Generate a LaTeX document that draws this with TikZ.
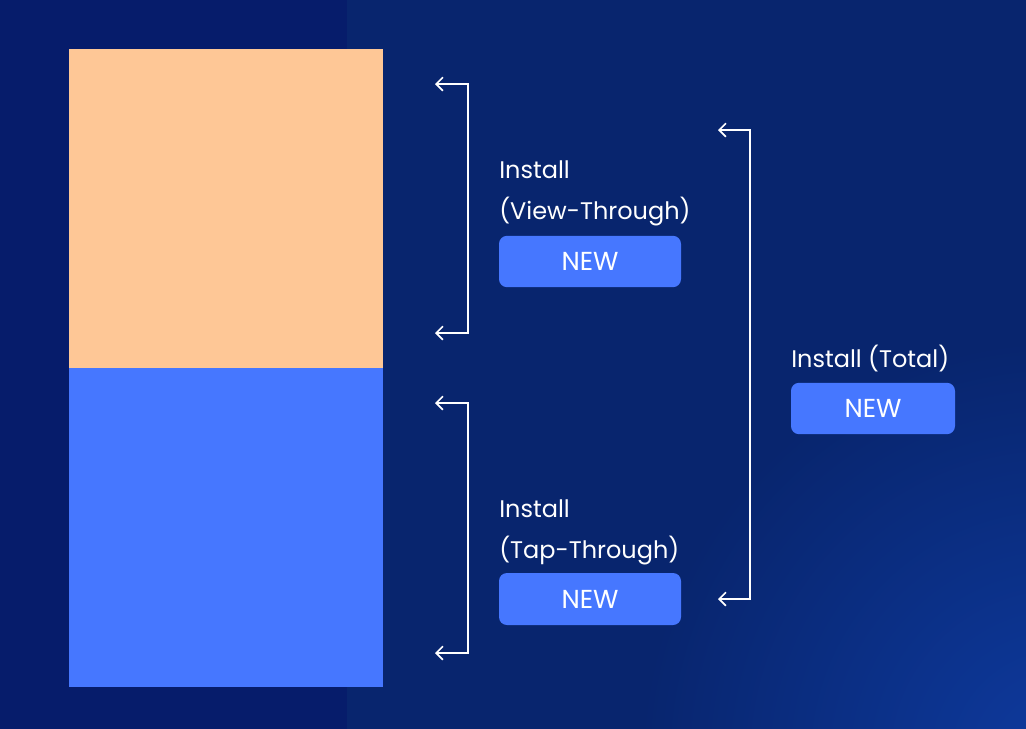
\documentclass[tikz,border=0pt]{standalone}
\usepackage{fontspec}
\setmainfont{Poppins}
\usepackage{tikz}
\usetikzlibrary{arrows.meta}

\definecolor{navyleft}{HTML}{061C6B}
\definecolor{navyright}{HTML}{08256E}
\definecolor{navyglow}{HTML}{0E3A9E}
\definecolor{peach}{HTML}{FEC796}
\definecolor{brandblue}{HTML}{4677FF}

\tikzset{
    newbtn/.style={fill=brandblue, rounded corners=6pt, text=white,
        font=\fontsize{19.5}{22}\selectfont, inner sep=0pt},
    label/.style={text=white, anchor=base west, inner sep=0pt,
        font=\fontsize{18}{22}\selectfont},
    bracket/.style={white, line width=1.3pt, {Straight Barb[length=5pt,width=10pt]}-{Straight Barb[length=5pt,width=10pt]}}
}

\begin{document}
\begin{tikzpicture}[x=0.75pt,y=-0.75pt]
        % Background
        \fill[navyleft] (0,0) rectangle (1026,729);
        \begin{scope}
            \clip (347,0) rectangle (1026,729);
            \fill[navyright] (347,0) rectangle (1026,729);
            \shade[inner color=navyglow, outer color=navyright] (1060,760) circle (420);
        \end{scope}
        \useasboundingbox (0,0) rectangle (1026,729);

        % Stacked bar
        \fill[peach] (69,49) rectangle (383,368);
        \fill[brandblue] (69,368) rectangle (383,687);

        % Brackets
        \coordinate (vt top) at (435,84);
        \coordinate (vt bot) at (435,333);
        \coordinate (tt top) at (435,403);
        \coordinate (tt bot) at (435,653);
        \coordinate (tot top) at (718,130);
        \coordinate (tot bot) at (718,599);
        \draw[bracket] (vt top) -- (468,84) -- (468,333) -- (vt bot);
        \draw[bracket] (tt top) -- (468,403) -- (468,653) -- (tt bot);
        \draw[bracket] (tot top) -- (750,130) -- (750,599) -- (tot bot);

        % Labels
        \node[label] (vt line1) at (499,178) {Install};
        \node[label] (vt line2) at (499,219) {(View-Through)};
        \node[label] (tt line1) at (499,517) {Install};
        \node[label] (tt line2) at (499,558) {(Tap-Through)};
        \node[label] (tot line) at (791,367) {Install (Total)};

        % Badges
        \node[newbtn, minimum width=136.5pt, minimum height=38.5pt] (vt new) at (590,261.5) {NEW};
        \node[newbtn, minimum width=136.5pt, minimum height=39pt] (tt new) at (590,599) {NEW};
        \node[newbtn, minimum width=123pt, minimum height=38.5pt] (tot new) at (873,408.5) {NEW};
    \end{tikzpicture}
\end{document}
